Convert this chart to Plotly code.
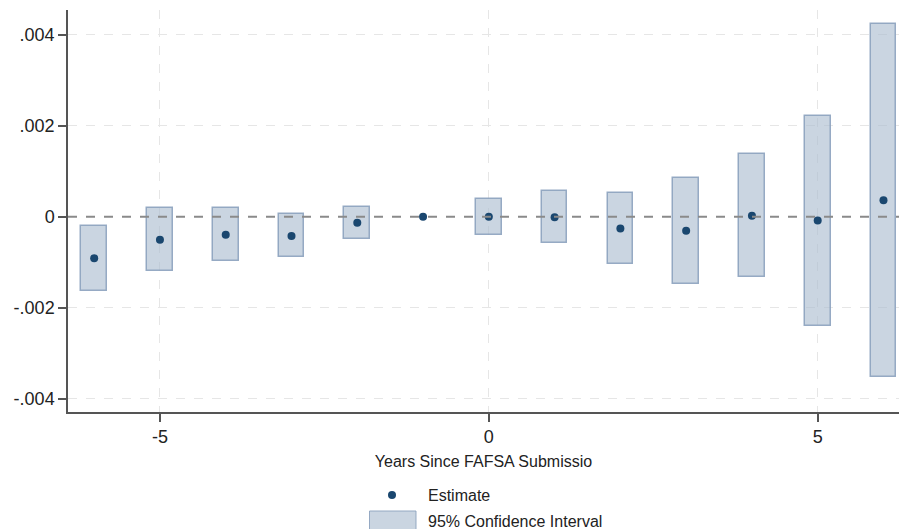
import plotly.graph_objects as go

years = [-6, -5, -4, -3, -2, -1, 0, 1, 2, 3, 4, 5, 6]
estimate = [-0.000908, -0.000505, -0.000395, -0.000418, -0.000132, 0.0, 0.0,
            -0.000007, -0.000256, -0.000308, 0.000022, -0.000079, 0.000367]
ci_low = [-0.00163, -0.00119, -0.00098, -0.00089, -0.000497, None, -0.000396,
          -0.000585, -0.001025, -0.00148, -0.00133, -0.0024, -0.00351]
ci_high = [-0.00019, 0.000185, 0.0002, 0.000066, 0.00022, None, 0.000396,
           0.000565, 0.000514, 0.000857, 0.00138, 0.00222, 0.00424]
y_ticks = [-0.004, -0.002, 0, 0.002, 0.004]
y_ticklabels = ["-.004", "-.002", "0", ".002", ".004"]
x_ticks = [-5, 0, 5]
x_ticklabels = ["-5", "0", "5"]

bar_x = [x for x, lo in zip(years, ci_low) if lo is not None]
bar_base = [lo for lo in ci_low if lo is not None]
bar_h = [hi - lo for lo, hi in zip(ci_low, ci_high) if lo is not None]

FONT = "Liberation Sans, Arial, sans-serif"
NAVY = "#1a476f"
FILL = "rgba(170,187,207,0.62)"
EDGE = "rgba(140,162,190,0.9)"

FW, FH = 899, 529
L, T, H = 68, 10, 402
W = FW - L

fig = go.Figure()
fig.add_trace(go.Bar(x=bar_x, base=bar_base, y=bar_h, width=0.39,
                     marker=dict(color=FILL, line=dict(color=EDGE, width=1.5)),
                     showlegend=False, hoverinfo="skip"))
fig.add_trace(go.Scatter(x=years, y=estimate, mode="markers",
                         marker=dict(color=NAVY, size=8), showlegend=False))

# zero reference line
fig.add_shape(type="line", xref="paper", x0=0, x1=1, yref="y", y0=0, y1=0,
              line=dict(color="#8a8a8a", width=2, dash="dash"), layer="above")

# manual legend (positions given in screen pixels)
def px(xs):
    return (xs - L) / W
def py(ys):
    return (T + H - ys) / H

fig.add_shape(type="circle", xref="paper", yref="paper",
              x0=px(388), x1=px(396), y0=py(499), y1=py(491),
              fillcolor=NAVY, line=dict(color=NAVY, width=0))
fig.add_shape(type="rect", xref="paper", yref="paper",
              x0=px(369.5), x1=px(416), y0=py(540), y1=py(511),
              fillcolor=FILL, line=dict(color=EDGE, width=1))
fig.add_annotation(xref="paper", yref="paper", x=px(426), y=py(495),
                   text="Estimate", showarrow=False, xanchor="left", yanchor="middle",
                   font=dict(family=FONT, size=16, color="#222"))
fig.add_annotation(xref="paper", yref="paper", x=px(426), y=py(521),
                   text="95% Confidence Interval", showarrow=False, xanchor="left",
                   yanchor="middle", font=dict(family=FONT, size=16, color="#222"))

fig.update_layout(
    width=FW, height=FH,
    margin=dict(l=L, r=0, t=T, b=FH - T - H, pad=0),
    paper_bgcolor="white", plot_bgcolor="white",
    font=dict(family=FONT, color="#222"),
    bargap=0,
    xaxis=dict(range=[-6.398, 6.236], tickvals=x_ticks, ticktext=x_ticklabels,
               ticks="outside", ticklen=8,
               tickcolor="#555", tickwidth=1.5,
               showline=True, linecolor="#555", linewidth=1.5,
               showgrid=True, gridcolor="#e6e6e6", griddash="dash", gridwidth=1,
               zeroline=False, tickfont=dict(size=18),
               title=dict(text="Years Since FAFSA Submissio", font=dict(size=16), standoff=9)),
    yaxis=dict(range=[-0.004286, 0.004543], tickvals=y_ticks, ticktext=y_ticklabels,
               ticks="outside", ticklen=8, tickcolor="#555", tickwidth=1.5,
               showline=True, linecolor="#555", linewidth=1.5,
               showgrid=True, gridcolor="#e6e6e6", griddash="dash", gridwidth=1,
               zeroline=False, tickfont=dict(size=18)),
)

fig.write_html("out.html",
               config={"displayModeBar": False},
               post_script="document.body.style.margin='0';document.body.style.overflow='hidden';")
